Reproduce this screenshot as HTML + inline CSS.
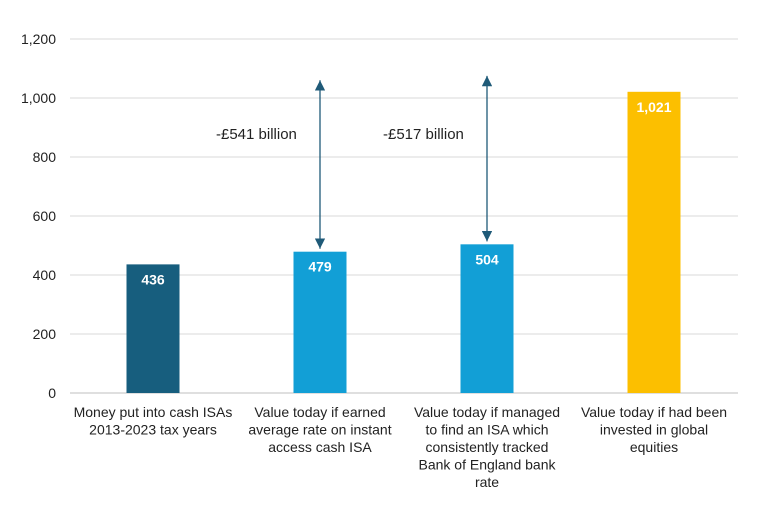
<!DOCTYPE html>
<html><head><meta charset="utf-8"><style>
body{margin:0;background:#fff;font-family:"Liberation Sans",sans-serif}
</style></head><body>
<svg id="c" width="770" height="502"></svg>
<script>
const categories=[["Money put into cash ISAs","2013-2023 tax years"],["Value today if earned","average rate on instant","access cash ISA"],["Value today if managed","to find an ISA which","consistently tracked","Bank of England bank","rate"],["Value today if had been","invested in global","equities"]];
const values=[436,479,504,1021];
const valueLabels=["436","479","504","1,021"];
const ticks=[0,200,400,600,800,1000,1200];
const tickLabels=["0","200","400","600","800","1,000","1,200"];
const gapLabels=["-£541 billion","-£517 billion"];
const gapTops=[1060,1075];
const colors=["#175e7e","#129fd6","#129fd6","#fcbf00"];
const svg=document.getElementById('c');const NS="http://www.w3.org/2000/svg";
const y=v=>393-v*(354/1200);const x=i=>153+i*167;
function mk(t,a,p){const e=document.createElementNS(NS,t);for(const k in a)e.setAttribute(k,a[k]);(p||svg).appendChild(e);return e;}
const defs=mk('defs',{});
const m=mk('marker',{id:'ah',viewBox:'0 0 10 10',refX:'10',refY:'5',markerWidth:'8',markerHeight:'8',orient:'auto-start-reverse'},defs);
mk('path',{d:'M0,0L10,5L0,10z',fill:'#1f5a78'},m);
ticks.forEach((t,i)=>{
const l=mk('line',{x1:70,x2:738,y1:y(t),y2:y(t),stroke:t===0?'#bfbfbf':'#d9d9d9','stroke-width':1});


const tx=mk('text',{x:56,y:y(t)+5,'text-anchor':'end','font-size':14,fill:'#222'});tx.textContent=tickLabels[i];


});
values.forEach((v,i)=>{
const r=mk('rect',{x:x(i)-26.5,y:y(v),width:53,height:y(0)-y(v),fill:colors[i]});


const t=mk('text',{x:x(i),y:y(v)+20,'text-anchor':'middle','font-size':14,'font-weight':'bold',fill:'#fff'});t.textContent=valueLabels[i];


categories[i].forEach((s,j)=>{const c=mk('text',{x:x(i),y:417+j*17.5,'text-anchor':'middle','font-size':14,fill:'#222'});c.textContent=s;

});
});
gapLabels.forEach((g,k)=>{const i=k+1;
const a=mk('line',{x1:x(i),x2:x(i),y1:y(values[i])-3,y2:y(gapTops[k]),stroke:'#1f5a78','stroke-width':1.3,'marker-start':'url(#ah)','marker-end':'url(#ah)'});


const t=mk('text',{x:x(i)-104,y:139,'font-size':15,fill:'#222'});t.textContent=g;


});
</script>
</body></html>
